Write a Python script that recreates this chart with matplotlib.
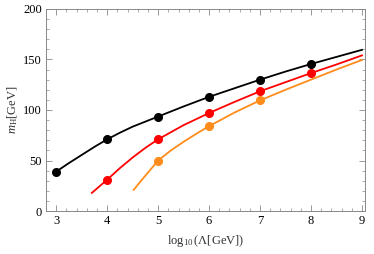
import matplotlib
matplotlib.use("Agg")
import matplotlib.pyplot as plt
from matplotlib.ticker import MultipleLocator

plt.rcParams["font.family"] = ["Liberation Serif", "DejaVu Serif"]
plt.rcParams["mathtext.fontset"] = "custom"
plt.rcParams["mathtext.rm"] = "Liberation Serif"
plt.rcParams["mathtext.it"] = "Liberation Serif:italic"

# points (log10 Lambda, m_H)
black_x = [3, 4, 5, 6, 7, 8]
black_y = [39, 71, 93.5, 113, 130, 145.5]
red_x = [4, 5, 6, 7, 8]
red_y = [31, 71, 97, 118.5, 136.5]
orange_x = [5, 6, 7]
orange_y = [50, 84, 109.5]

# fitted curves
black_cx = [3, 3.25, 3.5, 3.75, 4, 4.25, 4.5, 4.75, 5, 5.5, 6, 6.5, 7, 7.5, 8, 8.5, 9]
black_cy = [39, 47.5, 55.5, 63.5, 71, 77.5, 83.5, 88.5, 93.5, 103.5, 113, 121.5, 130, 138, 145.5, 152.5, 159.5]
red_cx = [3.7, 3.85, 4, 4.25, 4.5, 4.75, 5, 5.5, 6, 6.5, 7, 7.5, 8, 8.5, 9]
red_cy = [18, 24.5, 31, 42.5, 53, 62.5, 71, 85, 97, 108, 118.5, 127.5, 136.5, 145, 154]
orange_cx = [4.52, 4.65, 4.8, 5, 5.25, 5.5, 5.75, 6, 6.5, 7, 7.5, 8, 8.5, 9]
orange_cy = [21, 29, 38, 50, 60, 68.5, 76.5, 84, 97.5, 109.5, 120, 130, 140, 149.5]

fig = plt.figure(figsize=(3.74, 2.54), dpi=100)
ax = fig.add_axes([0.123, 0.169, 0.853, 0.796])

ax.plot(black_cx, black_cy, "-", color="black", lw=1.3)
ax.plot(red_cx, red_cy, "-", color="#ff0000", lw=1.3)
ax.plot(orange_cx, orange_cy, "-", color="#ff8c1a", lw=1.3)
ax.plot(black_x, black_y, "o", color="black", ms=5.5)
ax.plot(red_x, red_y, "o", color="#ff0000", ms=5.5)
ax.plot(orange_x, orange_y, "o", color="#ff8c1a", ms=5.5)

ax.set_xlim(2.8, 9.06)
ax.set_ylim(0, 200)
ax.xaxis.set_major_locator(MultipleLocator(1))
ax.xaxis.set_minor_locator(MultipleLocator(0.2))
ax.yaxis.set_major_locator(MultipleLocator(50))
ax.yaxis.set_minor_locator(MultipleLocator(10))
ax.tick_params(which="both", direction="in", top=True, right=True,
               color="#888888", labelsize=9, pad=3)
ax.tick_params(which="major", length=4, width=0.6)
ax.tick_params(which="minor", length=2, width=0.5)
for s in ax.spines.values():
    s.set_color("#888888")
    s.set_linewidth(0.7)

ax.set_xlabel(r"$\log_{10}(\Lambda[\mathrm{GeV}])$", fontsize=9, color="#333333")
ax.set_ylabel(r"$m_{\mathrm{H}}[\mathrm{GeV}]$", fontsize=9, color="#333333", labelpad=2)

fig.savefig("out.png", dpi=100)
